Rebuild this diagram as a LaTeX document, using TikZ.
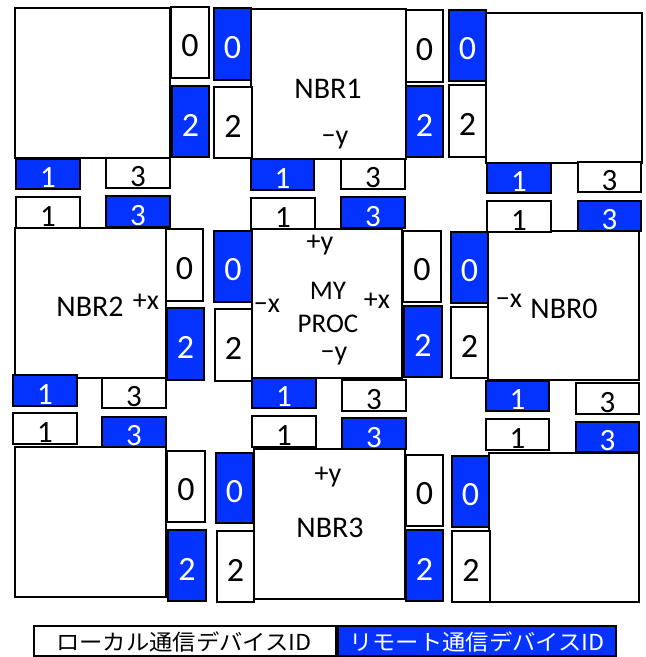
\documentclass[tikz,border=0pt]{standalone}
\usepackage{fontspec}
\setmainfont{Carlito}
\newfontfamily\jpfont{Noto Sans CJK JP}
\usetikzlibrary{shadows}
\definecolor{rblue}{RGB}{4,51,255}
\tikzset{
  boxbase/.style={draw=black, line width=1.3pt, inner sep=0pt, outer sep=0pt, rectangle,
    drop shadow={shadow xshift=0.8pt, shadow yshift=-1.2pt, opacity=0.25, fill=black}},
  bigbox/.style={boxbase, fill=white},
  wbox/.style={boxbase, fill=white},
  bbox/.style={boxbase, fill=rblue},
  vdig/.style={font=\fontsize{34}{34}\selectfont, inner sep=0pt},
  hdig/.style={font=\fontsize{31}{31}\selectfont, inner sep=0pt, anchor=base},
  namelbl/.style={font=\fontsize{30}{30}\selectfont, inner sep=0pt, anchor=base},
  proclbl/.style={font=\fontsize{27}{27}\selectfont, inner sep=0pt, anchor=base},
  axlbl/.style={font=\fontsize{28}{28}\selectfont, inner sep=0pt, anchor=base},
  legtxt/.style={font=\jpfont\fontsize{22}{22}\selectfont, inner sep=0pt}
}
\newcommand\mkbox[6]{%
  \node[#1, minimum width={(#5-#3)*1pt}, minimum height={(#6-#4)*1pt}] (#2) at ({(#3+#5)/2},{(#4+#6)/2}) {};}
\newcommand\mkv[8]{%
  \mkbox{#1}{#3}{#4}{#5}{#6}{#7}
  \node[vdig, text=#2, yshift=-3.5pt] (#3t) at (#3.center) {#8};}
\newcommand\mkh[8]{%
  \mkbox{#1}{#3}{#4}{#5}{#6}{#7}
  \node[hdig, text=#2, yshift=2pt] (#3t) at (#3.south) {#8};}
\begin{document}
\begin{tikzpicture}[x=1pt,y=-1pt]
\useasboundingbox (0,0) rectangle (646,657);
% big boxes
\mkbox{bigbox}{tl}{15}{8}{170}{158}
\mkbox{bigbox}{nbrone}{251}{9}{406}{159}
\mkbox{bigbox}{tr}{486}{13}{642}{163}
\mkbox{bigbox}{nbrtwo}{15}{228}{166}{378}
\mkbox{bigbox}{myproc}{252}{229}{402}{378}
\mkbox{bigbox}{nbrzero}{488}{231}{639}{380}
\mkbox{bigbox}{bl}{15}{447}{166}{597}
\mkbox{bigbox}{nbrthree}{254}{449}{405}{599}
\mkbox{bigbox}{br}{489}{453}{639}{602}
% row 1 small boxes
\mkv{wbox}{black}{aw0}{171}{7}{209}{78}{0}
\mkv{bbox}{white}{ab0}{214}{8}{251}{80}{0}
\mkv{bbox}{white}{ab2}{172}{86}{209}{157}{2}
\mkv{wbox}{black}{aw2}{214}{87}{252}{158}{2}
\mkh{bbox}{white}{ab1}{16}{159}{80}{189}{1}
\mkh{wbox}{black}{aw3}{106}{158}{170}{188}{3}
\mkh{wbox}{black}{aw1}{16}{197}{80}{228}{1}
\mkh{bbox}{white}{ab3}{106}{196}{170}{227}{3}
\mkv{wbox}{black}{bw0}{406}{10}{443}{82}{0}
\mkv{bbox}{white}{bb0}{449}{10}{486}{81}{0}
\mkv{bbox}{white}{bb2}{406}{86}{443}{157}{2}
\mkv{wbox}{black}{bw2}{449}{85}{486}{157}{2}
\mkh{bbox}{white}{bb1}{251}{159}{314}{190}{1}
\mkh{wbox}{black}{bw3}{341}{159}{405}{189}{3}
\mkh{wbox}{black}{bw1}{251}{198}{315}{229}{1}
\mkh{bbox}{white}{bb3}{341}{197}{405}{228}{3}
\mkh{bbox}{white}{cb1}{487}{163}{551}{193}{1}
\mkh{wbox}{black}{cw3}{578}{162}{641}{192}{3}
\mkh{wbox}{black}{cw1}{487}{201}{551}{232}{1}
\mkh{bbox}{white}{cb3}{578}{201}{641}{231}{3}
% row 2 small boxes
\mkv{wbox}{black}{dw0}{166}{229}{203}{301}{0}
\mkv{bbox}{white}{db0}{214}{231}{252}{302}{0}
\mkv{bbox}{white}{db2}{167}{308}{204}{380}{2}
\mkv{wbox}{black}{dw2}{215}{309}{252}{381}{2}
\mkh{bbox}{white}{db1}{13}{375}{77}{406}{1}
\mkh{wbox}{black}{dw3}{102}{378}{166}{408}{3}
\mkh{wbox}{black}{dw1}{13}{413}{77}{444}{1}
\mkh{bbox}{white}{db3}{102}{417}{166}{447}{3}
\mkv{wbox}{black}{ew0}{403}{231}{441}{302}{0}
\mkv{bbox}{white}{eb0}{451}{232}{488}{303}{0}
\mkv{bbox}{white}{eb2}{404}{306}{442}{377}{2}
\mkv{wbox}{black}{ew2}{451}{307}{488}{378}{2}
\mkh{bbox}{white}{eb1}{252}{378}{316}{408}{1}
\mkh{wbox}{black}{ew3}{342}{380}{406}{411}{3}
\mkh{wbox}{black}{ew1}{252}{416}{316}{447}{1}
\mkh{bbox}{white}{eb3}{342}{418}{406}{449}{3}
\mkh{bbox}{white}{fb1}{486}{381}{549}{411}{1}
\mkh{wbox}{black}{fw3}{576}{383}{639}{414}{3}
\mkh{wbox}{black}{fw1}{486}{419}{549}{450}{1}
\mkh{bbox}{white}{fb3}{576}{422}{639}{452}{3}
% row 3 small boxes
\mkv{wbox}{black}{gw0}{167}{451}{205}{522}{0}
\mkv{bbox}{white}{gb0}{216}{453}{253}{523}{0}
\mkv{bbox}{white}{gb2}{168}{530}{206}{601}{2}
\mkv{wbox}{black}{gw2}{217}{531}{254}{602}{2}
\mkv{wbox}{black}{hw0}{406}{455}{443}{526}{0}
\mkv{bbox}{white}{hb0}{452}{456}{489}{527}{0}
\mkv{bbox}{white}{hb2}{406}{530}{443}{601}{2}
\mkv{wbox}{black}{hw2}{452}{531}{490}{602}{2}
% labels
\node[namelbl] (l1) at (328,98) {NBR1};
\node[axlbl] (l1y) at (335,144) {−y};
\node[namelbl] (l2) at (90,316) {NBR2};
\node[axlbl] (l2x) at (146,309) {+x};
\node[proclbl] (lmy) at (328,299) {MY};
\node[proclbl] (lproc) at (328,332) {PROC};
\node[axlbl] (lpy) at (320,250) {+y};
\node[axlbl] (lmx) at (267,312) {−x};
\node[axlbl] (lpx) at (377,308) {+x};
\node[axlbl] (lmyy) at (334,360) {−y};
\node[namelbl] (l0) at (564,318) {NBR0};
\node[axlbl] (l0x) at (509,307) {−x};
\node[axlbl] (l3y) at (328,482) {+y};
\node[namelbl] (l3) at (330,537) {NBR3};
% legend
\node[wbox, minimum width=302pt, minimum height=30pt] (legL) at (185,641) {};
\node[legtxt, text=black] (legLt) at (184,641.5) {\scalebox{1.06}[1]{ローカル通信デバイスID}};
\node[bbox, minimum width=278pt, minimum height=30pt] (legR) at (477,641) {};
\node[legtxt, text=white] (legRt) at (477,641.5) {\scalebox{1.06}[1]{リモート通信デバイスID}};
\end{tikzpicture}
\end{document}
